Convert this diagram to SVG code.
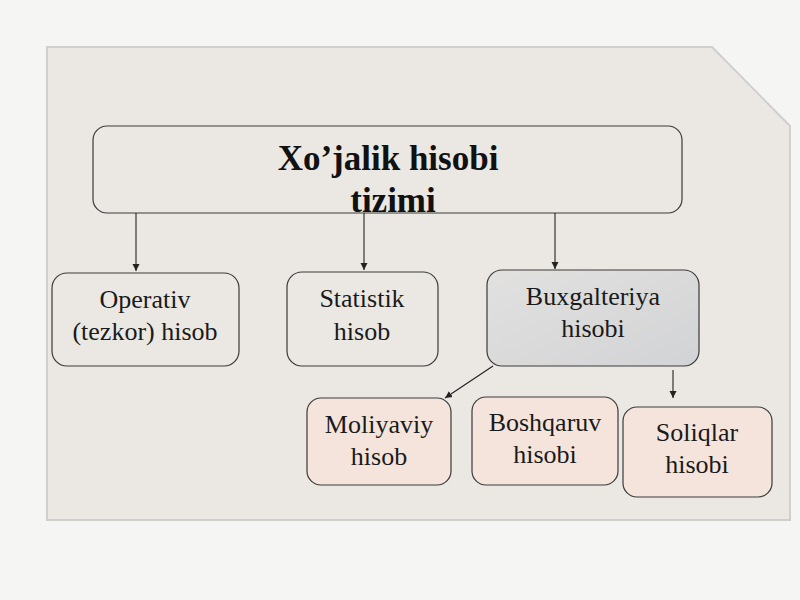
<svg xmlns="http://www.w3.org/2000/svg" width="800" height="600" viewBox="0 0 800 600">
<defs>
<marker id="ah" markerWidth="8" markerHeight="8" refX="7" refY="4" orient="auto" markerUnits="userSpaceOnUse">
<path d="M0,0.5 L7,4 L0,7.5 z" fill="#222"/>
</marker>
<linearGradient id="gray" x1="0" y1="0" x2="1" y2="1">
<stop offset="0" stop-color="#e2e1e0"/>
<stop offset="1" stop-color="#d2d3d5"/>
</linearGradient>
<style>
.box{stroke:#3a3a3a;stroke-width:1.2}
.plain{fill:#ebe8e3}
.peach{fill:#f4e4dc}
.t{font-family:"Liberation Serif","Times New Roman",serif;font-size:26px;fill:#1a1a1a;text-anchor:middle}
.title{font-family:"Liberation Serif","Times New Roman",serif;font-size:35px;font-weight:bold;fill:#111;text-anchor:middle}
.conn{stroke:#222;stroke-width:1.1;fill:none;marker-end:url(#ah)}
</style>
</defs>
<rect width="800" height="600" fill="#f5f5f4"/>
<polygon points="47,47 712,47 790,126 790,520 47,520" fill="#ebe8e3" stroke="#cfcfcf" stroke-width="2"/>
<g id="main">
<rect class="box plain" x="93" y="126" width="589" height="87" rx="14"/>
<text class="title" x="388" y="170">Xo’jalik hisobi</text>
<text class="title" x="393" y="212">tizimi</text>
</g>
<g id="operativ">
<rect class="box plain" x="52" y="273" width="187" height="93" rx="15"/>
<text class="t" x="145" y="308">Operativ</text>
<text class="t" x="145" y="340">(tezkor) hisob</text>
</g>
<g id="statistik">
<rect class="box plain" x="287" y="272" width="151" height="94" rx="15"/>
<text class="t" x="362" y="307">Statistik</text>
<text class="t" x="362" y="340">hisob</text>
</g>
<g id="buxgalteriya">
<rect class="box" fill="url(#gray)" x="487" y="270" width="212" height="96" rx="15"/>
<text class="t" x="593" y="305">Buxgalteriya</text>
<text class="t" x="593" y="337">hisobi</text>
</g>
<g id="moliyaviy">
<rect class="box peach" x="307" y="398" width="144" height="87" rx="14"/>
<text class="t" x="379" y="433">Moliyaviy</text>
<text class="t" x="379" y="465">hisob</text>
</g>
<g id="boshqaruv">
<rect class="box peach" x="472" y="397" width="146" height="88" rx="14"/>
<text class="t" x="545" y="431">Boshqaruv</text>
<text class="t" x="545" y="463">hisobi</text>
</g>
<g id="soliqlar">
<rect class="box peach" x="623" y="407" width="149" height="90" rx="14"/>
<text class="t" x="697" y="441">Soliqlar</text>
<text class="t" x="697" y="473">hisobi</text>
</g>
<g id="connectors">
<line class="conn" x1="136" y1="213" x2="136" y2="271"/>
<line class="conn" x1="364" y1="213" x2="364" y2="270"/>
<line class="conn" x1="555" y1="213" x2="555" y2="269"/>
<line class="conn" x1="493" y1="366" x2="445" y2="398"/>
<line class="conn" x1="673" y1="370" x2="673" y2="398"/>
</g>
</svg>
